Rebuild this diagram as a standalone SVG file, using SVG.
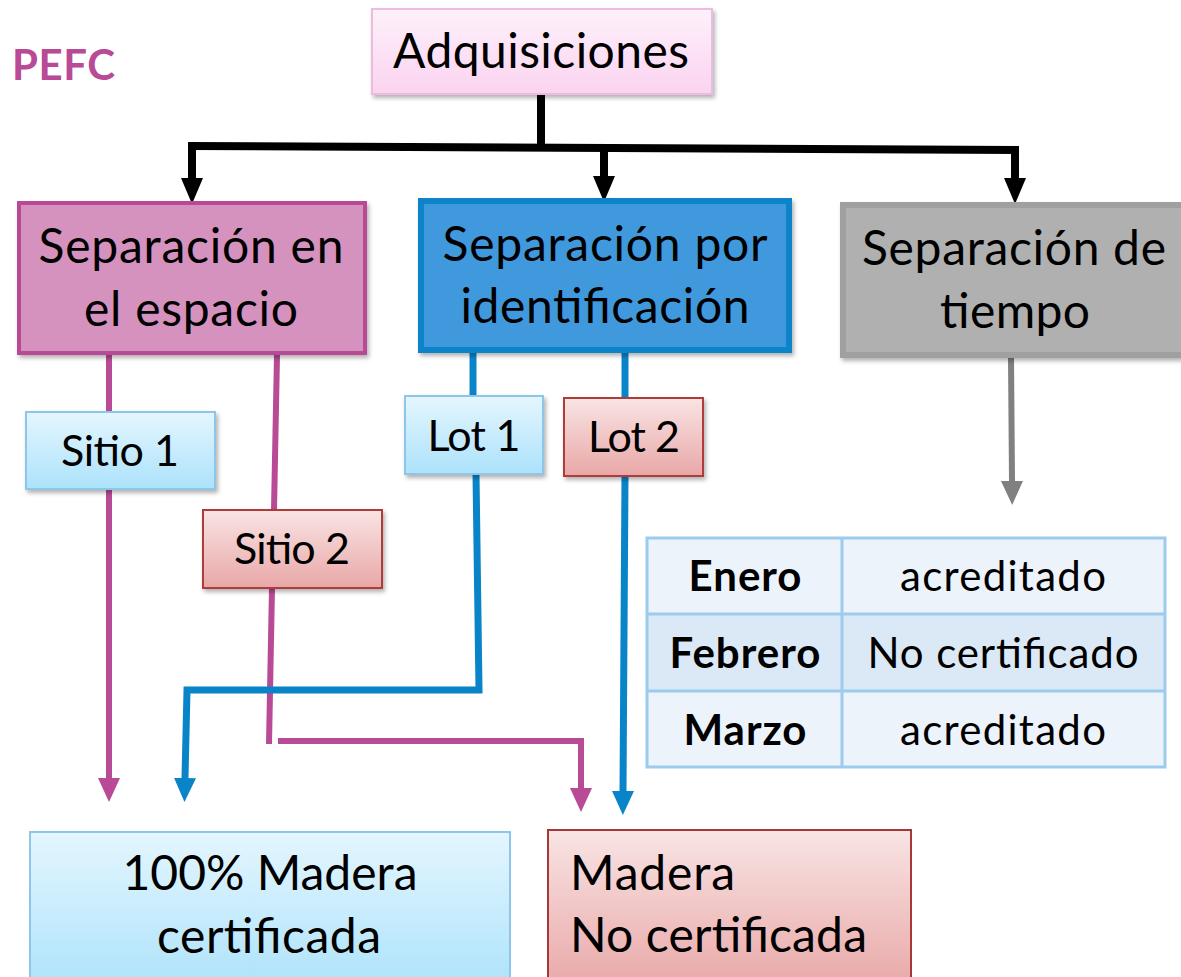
<svg xmlns="http://www.w3.org/2000/svg" width="1181" height="977" viewBox="0 0 1181 977">
<defs>
<linearGradient id="gBlue" x1="0" y1="0" x2="0" y2="1"><stop offset="0" stop-color="#e4f6fe"/><stop offset="1" stop-color="#ace2fb"/></linearGradient>
<linearGradient id="gRed" x1="0" y1="0" x2="0" y2="1"><stop offset="0" stop-color="#f9e4e4"/><stop offset="1" stop-color="#e9a7a7"/></linearGradient>
<linearGradient id="gPink" x1="0" y1="0" x2="0" y2="1"><stop offset="0" stop-color="#fdf1fb"/><stop offset="1" stop-color="#fbd3f0"/></linearGradient>
<filter id="sh" x="-10%" y="-10%" width="120%" height="130%"><feDropShadow dx="2" dy="3" stdDeviation="2" flood-color="#000" flood-opacity="0.3"/></filter>
<marker id="aK" markerUnits="userSpaceOnUse" markerWidth="26" markerHeight="22" refX="0" refY="11" orient="auto"><path d="M0,0 L26,11 L0,22 z" fill="#000"/></marker>
<marker id="aM" markerUnits="userSpaceOnUse" markerWidth="24" markerHeight="22" refX="0" refY="11" orient="auto"><path d="M0,0 L24,11 L0,22 z" fill="#b84a96"/></marker>
<marker id="aB" markerUnits="userSpaceOnUse" markerWidth="24" markerHeight="22" refX="0" refY="11" orient="auto"><path d="M0,0 L24,11 L0,22 z" fill="#0984c9"/></marker>
<marker id="aG" markerUnits="userSpaceOnUse" markerWidth="24" markerHeight="22" refX="0" refY="11" orient="auto"><path d="M0,0 L24,11 L0,22 z" fill="#808080"/></marker>
</defs>
<style>
text{font-family:Lato,"Liberation Sans",sans-serif;fill:#000}
.big{font-size:48px}
.mid{font-size:43px}
.tb{font-size:42px}
.b{font-weight:bold}
.k{fill:none;stroke:#000;stroke-width:8}
.m{fill:none;stroke:#b84a96;stroke-width:6}
.bl{fill:none;stroke:#0984c9;stroke-width:7}
.g{fill:none;stroke:#808080;stroke-width:6}
</style>
<rect width="1181" height="977" fill="#fff"/>
<text id="pefc" x="12" y="80" class="b" font-size="42" style="fill:#b84a96" textLength="103">PEFC</text>

<g id="connectors">
<path class="k" d="M541,94 V149"/>
<path class="k" d="M188,146 L1019,150"/>
<path class="k" d="M192,146 V178" marker-end="url(#aK)"/>
<path class="k" d="M604,148 V176" marker-end="url(#aK)"/>
<path class="k" d="M1015,150 V178" marker-end="url(#aK)"/>
<path class="m" d="M109,355 V411"/>
<path class="m" d="M109,489 V778" marker-end="url(#aM)"/>
<path class="m" d="M277,355 L274,510"/>
<path class="m" d="M272,588 L269,744"/>
<path class="m" d="M278,741 H581 V788" marker-end="url(#aM)"/>
<path class="bl" d="M473,353 V396"/>
<path class="bl" d="M625,353 V398"/>
<path class="bl" d="M476,474 L479,690 L187,690 L185,778" marker-end="url(#aB)"/>
<path class="bl" d="M625,476 L623,791" marker-end="url(#aB)"/>
<path class="g" d="M1011,357 L1012,481" marker-end="url(#aG)"/>
</g>

<g id="adquisiciones">
<rect x="372" y="9" width="340" height="85" fill="url(#gPink)" stroke="#ecbbe0" stroke-width="2" filter="url(#sh)"/>
<text x="541" y="68" class="big" text-anchor="middle" textLength="296">Adquisiciones</text>
</g>

<g id="sep-espacio">
<rect x="19" y="203" width="346" height="150" fill="#d592bf" stroke="#b84a96" stroke-width="4" filter="url(#sh)"/>
<text x="191" y="263" class="big" text-anchor="middle" textLength="305">Separación en</text>
<text x="191" y="326" class="big" text-anchor="middle" textLength="214">el espacio</text>
</g>

<g id="sep-identificacion">
<rect x="421" y="201" width="368" height="149" fill="#4199dc" stroke="#0984c9" stroke-width="6" filter="url(#sh)"/>
<text x="605" y="261" class="big" text-anchor="middle" textLength="325">Separación por</text>
<text x="605" y="323" class="big" text-anchor="middle" textLength="289">identificación</text>
</g>

<g id="sep-tiempo">
<rect x="843" y="205" width="345" height="150" fill="#b0b0b0" stroke="#a0a0a0" stroke-width="6" filter="url(#sh)"/>
<text x="862" y="265" class="big" textLength="304">Separación de</text>
<text x="1015" y="328" class="big" text-anchor="middle" textLength="150">tiempo</text>
</g>

<g id="sitio1">
<rect x="26" y="412" width="189" height="77" fill="url(#gBlue)" stroke="#8ec6ea" stroke-width="2" filter="url(#sh)"/>
<text x="120" y="466" class="mid" text-anchor="middle" textLength="118">Sitio 1</text>
</g>

<g id="sitio2">
<rect x="203" y="510" width="179" height="78" fill="url(#gRed)" stroke="#b03a3a" stroke-width="2" filter="url(#sh)"/>
<text x="292" y="564" class="mid" text-anchor="middle" textLength="116">Sitio 2</text>
</g>

<g id="lot1">
<rect x="405" y="396" width="138" height="78" fill="url(#gBlue)" stroke="#8ec6ea" stroke-width="2" filter="url(#sh)"/>
<text x="474" y="451" class="mid" text-anchor="middle" textLength="93">Lot 1</text>
</g>

<g id="lot2">
<rect x="564" y="398" width="139" height="78" fill="url(#gRed)" stroke="#b03a3a" stroke-width="2" filter="url(#sh)"/>
<text x="634" y="452" class="mid" text-anchor="middle" textLength="92">Lot 2</text>
</g>

<g id="tabla">
<rect x="647" y="538" width="518" height="76" fill="#edf3fb"/>
<rect x="647" y="614" width="518" height="77" fill="#dbe8f5"/>
<rect x="647" y="691" width="518" height="76" fill="#edf3fb"/>
<g fill="none" stroke="#9ccbee" stroke-width="3">
<rect x="647" y="538" width="518" height="229"/>
<line x1="842" y1="538" x2="842" y2="767"/>
<line x1="647" y1="614" x2="1165" y2="614"/>
<line x1="647" y1="691" x2="1165" y2="691"/>
</g>
<text x="745" y="591" class="tb b" text-anchor="middle" textLength="113">Enero</text>
<text x="1003" y="591" class="tb" text-anchor="middle" textLength="206">acreditado</text>
<text x="745" y="668" class="tb b" text-anchor="middle" textLength="151">Febrero</text>
<text x="1003" y="668" class="tb" text-anchor="middle" textLength="271">No certificado</text>
<text x="745" y="745" class="tb b" text-anchor="middle" textLength="123">Marzo</text>
<text x="1003" y="745" class="tb" text-anchor="middle" textLength="206">acreditado</text>
</g>

<g id="madera-cert">
<rect x="30" y="832" width="480" height="160" fill="url(#gBlue)" stroke="#8ec6ea" stroke-width="2"/>
<text x="270" y="890" class="big" text-anchor="middle" textLength="295">100% Madera</text>
<text x="269" y="953" class="big" text-anchor="middle" textLength="224">certificada</text>
</g>

<g id="madera-nocert">
<rect x="548" y="830" width="363" height="160" fill="url(#gRed)" stroke="#a83838" stroke-width="2"/>
<text x="570" y="890" class="big" textLength="165">Madera</text>
<text x="570" y="952" class="big" textLength="297">No certificada</text>
</g>
</svg>
